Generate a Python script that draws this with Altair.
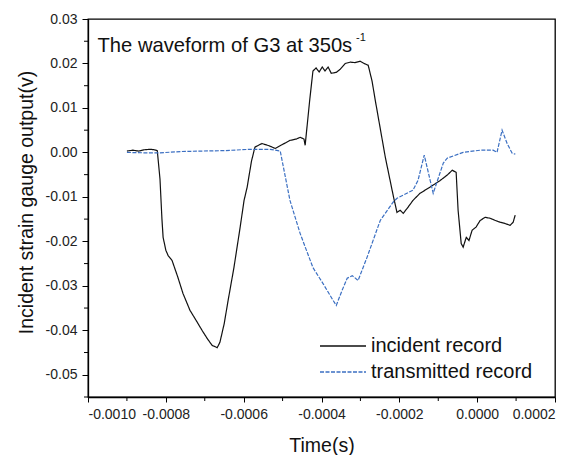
import altair as alt
import pandas as pd

# ---- data ----
inc_t = [-0.000900, -0.000885, -0.000870, -0.000855, -0.000840, -0.000830, -0.000822, -0.000815,
         -0.000810, -0.000807, -0.000800, -0.000794, -0.000784, -0.000769, -0.000756, -0.000738,
         -0.000722, -0.000707, -0.000694, -0.000681, -0.000668, -0.000661, -0.000650, -0.000640,
         -0.000625, -0.000609, -0.000599, -0.000591, -0.000580, -0.000571, -0.000553, -0.000535,
         -0.000519, -0.000500, -0.000481, -0.000465, -0.000455, -0.000445, -0.000442, -0.000430,
         -0.000422, -0.000414, -0.000406, -0.000398, -0.000391, -0.000383, -0.000375, -0.000362,
         -0.000352, -0.000339, -0.000326, -0.000314, -0.000301, -0.000288, -0.000280, -0.000270,
         -0.000262, -0.000236, -0.000215, -0.000206, -0.000198, -0.000190, -0.000180, -0.000165,
         -0.000147, -0.000121, -0.000095, -0.000077, -0.000064, -0.000054, -0.000049, -0.000041,
         -0.000036, -0.000028, -0.000021, -0.000013, -0.000003, 0.0000077, 0.0000206, 0.0000334,
         0.0000463, 0.0000591, 0.000072, 0.0000848, 0.0000925, 0.0000977]
inc_v = [0.0003, 0.0005, 0.0003, 0.0006, 0.0007, 0.0006, 0.0004, -0.0060,
         -0.0150, -0.0191, -0.0220, -0.0232, -0.0243, -0.0281, -0.0317, -0.0355,
         -0.0378, -0.0400, -0.0418, -0.0434, -0.0439, -0.0427, -0.0385, -0.0333,
         -0.0259, -0.0168, -0.0108, -0.0078, -0.0020, 0.0012, 0.0020, 0.0015,
         0.0009, 0.0018, 0.0027, 0.0030, 0.0034, 0.0030, 0.0016, 0.0120,
         0.0183, 0.0190, 0.0181, 0.0192, 0.0183, 0.0192, 0.0178, 0.0180,
         0.0187, 0.0200, 0.0203, 0.0202, 0.0205, 0.0199, 0.0196, 0.0160,
         0.0118, -0.0011, -0.0100, -0.0135, -0.0130, -0.0137, -0.0126, -0.0108,
         -0.0092, -0.0078, -0.0063, -0.0051, -0.0040, -0.0045, -0.0130, -0.0205,
         -0.0213, -0.0191, -0.0198, -0.0175, -0.0168, -0.0153, -0.0146, -0.0148,
         -0.0153, -0.0157, -0.0160, -0.0164, -0.0157, -0.0141]

tr_t = [-0.000900, -0.000850, -0.000815, -0.000760, -0.000712, -0.000650, -0.000584, -0.000532,
        -0.000506, -0.000481, -0.000455, -0.000422, -0.000396, -0.000370, -0.000362, -0.000347,
        -0.000334, -0.000321, -0.000306, -0.000283, -0.000249, -0.000216, -0.000206, -0.000165,
        -0.000152, -0.000136, -0.000113, -0.000087, -0.000077, -0.000036, 0.0000077, 0.000041,
        0.000051, 0.000064, 0.000077, 0.000090, 0.000098]
tr_v = [0.0000, -0.0001, -0.0001, 0.0002, 0.0003, 0.0004, 0.0007, 0.0007,
        0.0003, -0.0108, -0.0182, -0.0259, -0.0295, -0.0333, -0.0344, -0.0310,
        -0.0283, -0.0277, -0.0288, -0.0236, -0.0153, -0.0112, -0.0103, -0.0085,
        -0.0063, -0.0006, -0.0092, -0.0024, -0.0013, 0.0000, 0.0005, 0.0005,
        0.0000, 0.0050, 0.0020, -0.0002, -0.0004]

series_names = ["incident record", "transmitted record"]
x_ticks = [-0.0010, -0.0008, -0.0006, -0.0004, -0.0002, 0.0, 0.0002]
x_minor = [-0.0009, -0.0007, -0.0005, -0.0003, -0.0001, 0.0001]
y_ticks = [0.03, 0.02, 0.01, 0.0, -0.01, -0.02, -0.03, -0.04, -0.05]
y_minor = [0.025, 0.015, 0.005, -0.005, -0.015, -0.025, -0.035, -0.045, -0.055]
title_main = "The waveform of G3 at 350s"
title_sup = "-1"

FONT = "Liberation Sans"
W, H = 467, 378

df = pd.DataFrame({
    "t": inc_t + tr_t,
    "v": inc_v + tr_v,
    "series": [series_names[0]] * len(inc_t) + [series_names[1]] * len(tr_t),
})

xs = alt.Scale(domain=[-0.0010, 0.0002], nice=False, zero=False)
ys = alt.Scale(domain=[-0.055, 0.03], nice=False, zero=False)

x_axis = alt.Axis(
    values=x_ticks, title="Time(s)", tickSize=5, labelPadding=5,
    labelExpr="replace(format(datum.value, '.4f'), '\u2212', '-')",
    titleX=W / 2, titleY=54, titleBaseline="alphabetic", grid=False)
y_axis = alt.Axis(
    values=y_ticks, title="Incident strain gauge output(v)", tickSize=6, labelPadding=5,
    labelExpr="replace(format(datum.value, '.2f'), '\u2212', '-')",
    titleX=-56, titleY=183, titleBaseline="alphabetic", grid=False)

leg = alt.Legend(
    title=None, orient="none", legendX=244, legendY=316,
    symbolType="M-2.3,0H2.3", symbolSize=400, symbolStrokeWidth=1.4,
    labelFontSize=20, labelFont=FONT, labelColor="#111", labelOffset=17,
    rowPadding=5, padding=0, labelLimit=400,
)

lines = alt.Chart(df).mark_line(strokeWidth=1.2).encode(
    x=alt.X("t:Q", scale=xs, axis=x_axis),
    y=alt.Y("v:Q", scale=ys, axis=y_axis),
    color=alt.Color("series:N", scale=alt.Scale(domain=series_names, range=["#111111", "#3b6fc2"]), legend=leg),
    strokeDash=alt.StrokeDash("series:N", scale=alt.Scale(domain=series_names, range=[[1, 0], [4, 1.5]]), legend=leg),
)

xminor = alt.Chart(pd.DataFrame({"t": x_minor})).mark_rule(color="black", strokeWidth=1).encode(
    x=alt.X("t:Q", scale=xs, axis=x_axis), y=alt.value(H), y2=alt.value(H + 4))
yminor = alt.Chart(pd.DataFrame({"v": y_minor})).mark_rule(color="black", strokeWidth=1).encode(
    y=alt.Y("v:Q", scale=ys, axis=y_axis), x=alt.value(0), x2=alt.value(-4))

t1 = alt.Chart(pd.DataFrame({"label": [title_main]})).mark_text(
    align="left", baseline="alphabetic", fontSize=20.2, font=FONT, color="#111").encode(
    x=alt.value(9.5), y=alt.value(33), text="label:N")
t2 = alt.Chart(pd.DataFrame({"label": [title_sup]})).mark_text(
    align="left", baseline="alphabetic", fontSize=11, font=FONT, color="#111").encode(
    x=alt.value(268), y=alt.value(22), text="label:N")

chart = alt.layer(lines, xminor, yminor, t1, t2).properties(
    width=W, height=H,
    autosize=alt.AutoSizeParams(type="none"),
    padding={"left": 88, "top": 19, "right": 28, "bottom": 58},
).configure_view(stroke="black", strokeWidth=1.3).configure_axis(
    domainColor="black", domainWidth=1.3, tickColor="black", tickWidth=1,
    labelFont=FONT, labelFontSize=14, labelColor="#222",
    titleFont=FONT, titleFontSize=19.5, titleColor="#111", titleFontWeight="normal",
)

chart.save("out.html", embed_options={"renderer": "svg", "actions": False})
